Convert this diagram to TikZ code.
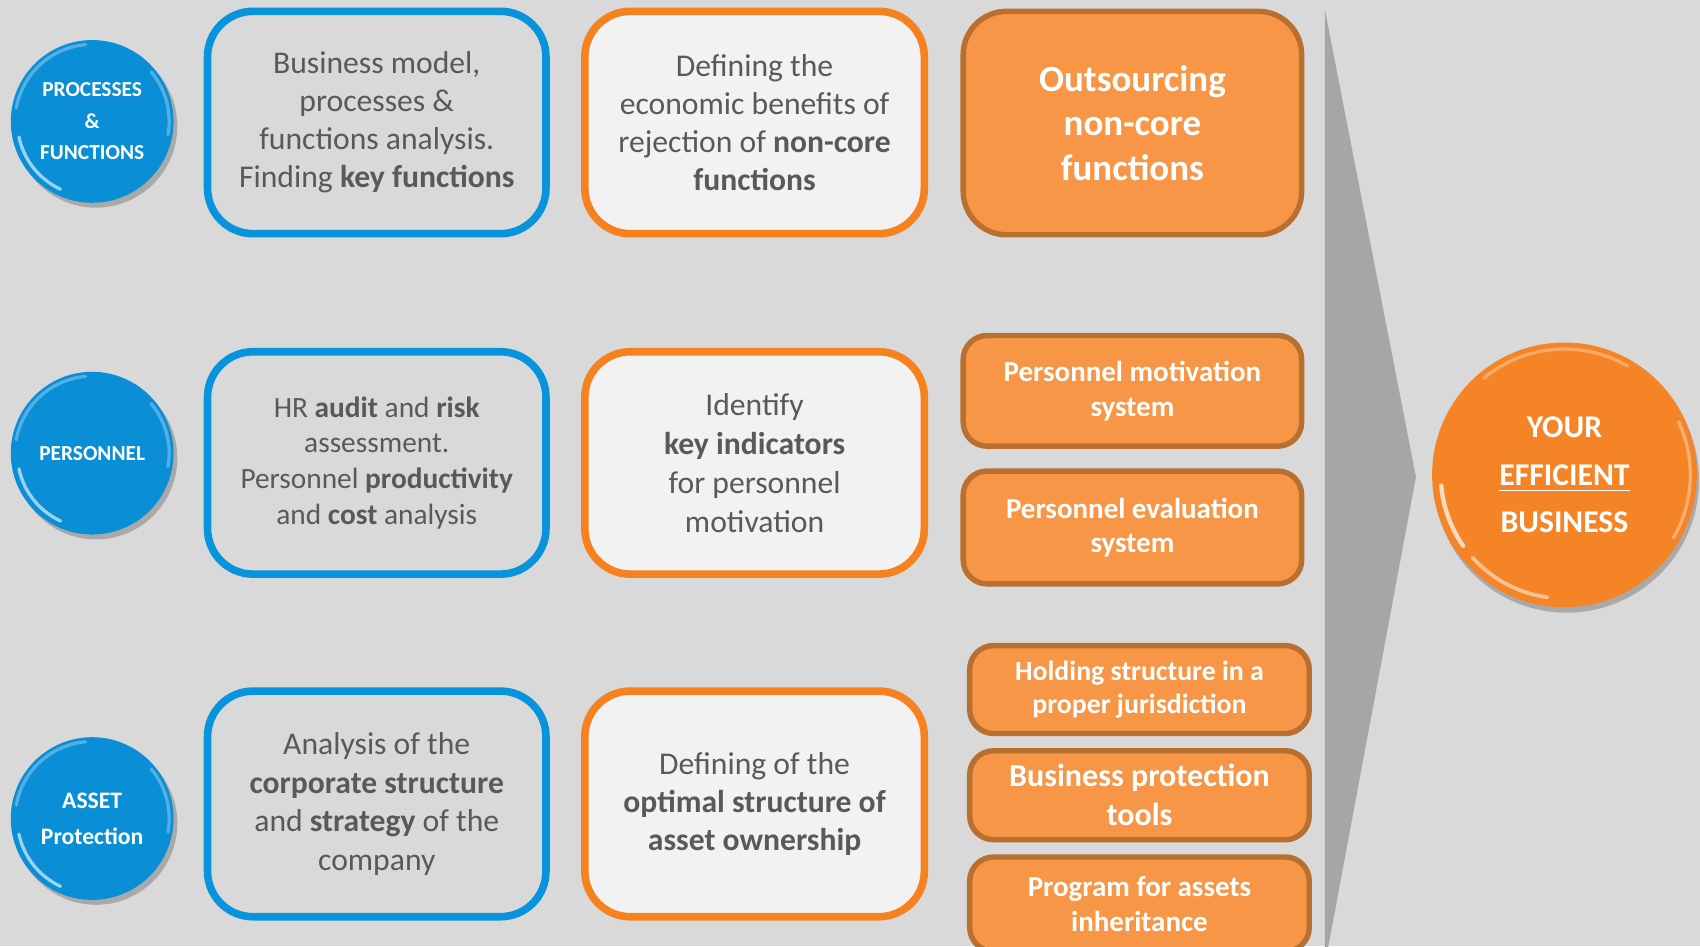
\documentclass[tikz,border=0pt]{standalone}
\usepackage{fontspec}
\setmainfont{Carlito}
\usetikzlibrary{shadows}
\definecolor{bg}{HTML}{D9D9D9}
\definecolor{blueb}{HTML}{0894DC}
\definecolor{bluec}{HTML}{0A8FD6}
\definecolor{orb}{HTML}{F5821F}
\definecolor{lightf}{HTML}{F2F2F2}
\definecolor{resf}{HTML}{F79646}
\definecolor{resd}{HTML}{B86F30}
\definecolor{txt}{HTML}{595959}
\definecolor{arrowc}{HTML}{A6A6A6}
\definecolor{orc}{HTML}{F58426}
\newcommand{\myfs}[2]{\fontsize{#1}{#2}\selectfont}
\begin{document}
\begin{tikzpicture}[x=0.01cm,y=-0.01cm,
  bluebox/.style={draw=blueb, line width=0.07cm, fill=bg, rounded corners=0.42cm,
    minimum width=3.12cm, minimum height=2.05cm, align=center, text=txt, inner sep=0pt},
  orbox/.style={draw=orb, line width=0.07cm, fill=lightf, rounded corners=0.42cm,
    minimum width=3.13cm, minimum height=2.05cm, align=center, text=txt, inner sep=0pt},
  resbox/.style={draw=resd, line width=0.05cm, fill=resf, align=center, text=white,
    inner sep=0pt, rounded corners=0.22cm},
  bluecirc/.style={circle, fill=bluec, minimum size=1.5cm, inner sep=0pt, text=white,
    align=center, drop shadow={shadow xshift=0.035cm, shadow yshift=-0.045cm, opacity=0.22, fill=black}},
  glint/.style={white, opacity=0.6, line width=0.03cm, line cap=round},
  rim/.style={white, opacity=0.3, line width=0.03cm, line cap=round}
]
\useasboundingbox (0,0) rectangle (1568,873);
\clip (0,0) rectangle (1568,873);
\fill[bg] (0,0) rectangle (1568,873);

% big arrow
\fill[arrowc] (1222,9) -- (1306,440) -- (1222,890) -- cycle;

% circles left
\node[bluecirc, font=\myfs{5.6}{8.3}\bfseries] (p1) at (85,112) {PROCESSES\\\&\\FUNCTIONS};
\node[bluecirc, font=\myfs{5.6}{8.3}\bfseries] (p2) at (85,418) {PERSONNEL};
\node[bluecirc, font=\myfs{6.2}{9.4}\bfseries] (p3) at (85,755) {ASSET\\Protection};
\foreach \c in {p1,p2,p3}{
  \draw[glint] (\c.center) ++(192:0.69cm) arc[start angle=192, end angle=245, radius=0.69cm];
  \draw[rim] (\c.center) ++(95:0.71cm) arc[start angle=95, end angle=170, radius=0.71cm];
  \draw[rim] (\c.center) ++(-10:0.71cm) arc[start angle=-10, end angle=40, radius=0.71cm];
}

% row 1
\node[bluebox, font=\myfs{8.3}{10}] (b1) at (347.5,113) {Business model,\\processes \&\\functions analysis.\\Finding \textbf{key functions}};
\node[orbox, font=\myfs{8.3}{10}] (o1) at (696,113) {Defining the\\economic benefits of\\rejection of \textbf{non-core}\\\textbf{functions}};
\node[resbox, rounded corners=0.4cm, minimum width=3.12cm, minimum height=2.06cm, font=\myfs{9.7}{11.7}\bfseries] (r1) at (1044.5,113.5)
  {Outsourcing\\non-core\\functions};

% row 2
\node[bluebox, font=\myfs{7.7}{9.4}] (b2) at (347.5,427) {HR \textbf{audit} and \textbf{risk}\\assessment.\\Personnel \textbf{productivity}\\and \textbf{cost} analysis};
\node[orbox, font=\myfs{8.3}{10.2}] (o2) at (696,427) {Identify\\\textbf{key indicators}\\for personnel\\motivation};
\node[resbox, minimum width=3.12cm, minimum height=1.02cm, font=\myfs{7.6}{9.1}\bfseries] (r2a) at (1044.5,360.5)
  {Personnel motivation\\system};
\node[resbox, minimum width=3.12cm, minimum height=1.04cm, font=\myfs{7.6}{9.1}\bfseries] (r2b) at (1044.5,486.5)
  {Personnel evaluation\\system};

% row 3
\node[bluebox, minimum height=2.08cm, font=\myfs{8.3}{10.1}] (b3) at (347.5,741.5) {Analysis of the\\\textbf{corporate structure}\\and \textbf{strategy} of the\\company};
\node[orbox, minimum height=2.08cm, font=\myfs{8.3}{10}] (o3) at (696,741.5) {Defining of the\\\textbf{optimal structure of}\\\textbf{asset ownership}};
\node[resbox, minimum width=3.13cm, minimum height=0.81cm, font=\myfs{7.3}{8.8}\bfseries] (r3a) at (1051,636)
  {Holding structure in a\\proper jurisdiction};
\node[resbox, minimum width=3.13cm, minimum height=0.82cm, font=\myfs{8.4}{10.2}\bfseries] (r3b) at (1051,733.5)
  {Business protection\\tools};
\node[resbox, minimum width=3.13cm, minimum height=0.87cm, font=\myfs{7.6}{9.1}\bfseries] (r3c) at (1051,834)
  {Program for assets\\inheritance};

% result circle
\node[circle, fill=orc, minimum size=2.44cm, inner sep=0pt, text=white, align=center,
  font=\myfs{8.3}{12.5}\bfseries,
  drop shadow={shadow xshift=0.02cm, shadow yshift=-0.05cm, opacity=0.22, fill=black}] (res) at (1443,438)
  {YOUR\\\underline{EFFICIENT}\\BUSINESS};
\draw[white, opacity=0.7, line width=0.04cm, line cap=round] (res.center) ++(185:1.14cm) arc[start angle=185, end angle=215, radius=1.14cm];
\draw[white, opacity=0.5, line width=0.035cm, line cap=round] (res.center) ++(222:1.14cm) arc[start angle=222, end angle=262, radius=1.14cm];
\draw[white, opacity=0.3, line width=0.03cm, line cap=round] (res.center) ++(60:1.16cm) arc[start angle=60, end angle=130, radius=1.16cm];
\draw[white, opacity=0.35, line width=0.03cm, line cap=round] (res.center) ++(-30:1.16cm) arc[start angle=-30, end angle=25, radius=1.16cm];
\end{tikzpicture}
\end{document}
